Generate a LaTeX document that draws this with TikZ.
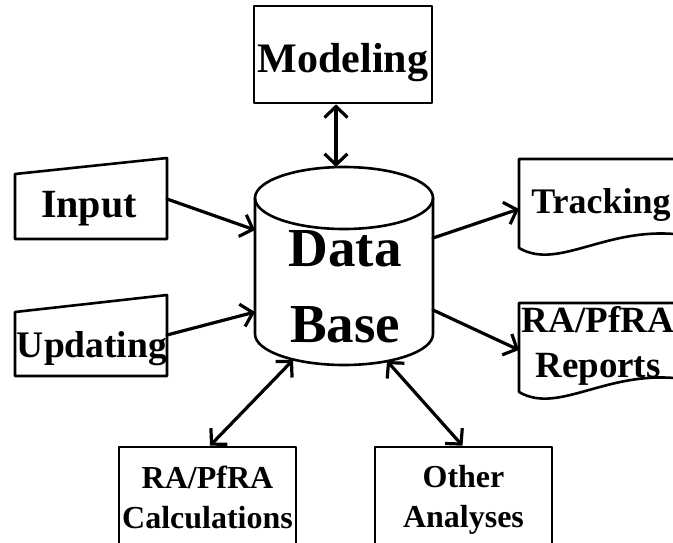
\documentclass[tikz,border=0pt]{standalone}
\usepackage{fontspec}
\setmainfont{Liberation Serif}
\usetikzlibrary{arrows.meta}
\tikzset{
	box/.style={draw, line width=2.6pt, inner sep=0pt, align=center},
	lbl/.style={inner sep=0pt, align=center},
	link/.style={line width=3.2pt},
}
\begin{document}
\begin{tikzpicture}[x=1pt, y=-1pt, line join=round, line cap=round, >={Straight Barb[length=11pt,width=23pt]}]
	\useasboundingbox (0,0) rectangle (673,542);
	\clip (0,0) rectangle (673,542);
	% data base cylinder
	\path (344,198) coordinate (T) (344,334) coordinate (S);
	\draw[line width=2.6pt] ([xshift=-89pt]T) -- ([xshift=-89pt]S) arc[start angle=180, end angle=360, x radius=89pt, y radius=31pt] -- ([xshift=89pt]T);
	\draw[line width=2.6pt] (T) ellipse[x radius=89pt, y radius=31pt];
	\node[lbl, font=\fontsize{55}{76}\selectfont\bfseries] (db) at (345,287) {Data\\Base};
	\path (336,167) coordinate (dbM) (255,230) coordinate (dbI) (255,312) coordinate (dbU)
		(433,238) coordinate (dbT) (433,310) coordinate (dbR) (293,360) coordinate (dbC) (387,361) coordinate (dbO);
	% boxes
	\node[box, minimum width=178pt, minimum height=97pt, text height=46pt, font=\fontsize{42}{50}\selectfont\bfseries] (model) at (343,54.5) {Modeling};
	\node[box, minimum width=177pt, minimum height=100pt, font=\fontsize{32}{40}\selectfont\bfseries] (calc) at (207.5,497) {RA/PfRA\\Calculations};
	\node[box, minimum width=177pt, minimum height=106.6pt, font=\fontsize{32}{40}\selectfont\bfseries] (other) at (463.5,500.3) {Other\\Analyses};
	% manual input shapes
	\foreach \ya/\yb/\yc in {174/158/239, 312/295/376}
		\draw[line width=2.6pt] (15,\ya) -- (167,\yb) -- (167,\yc) -- (15,\yc) -- cycle;
	\node[lbl, anchor=base, font=\fontsize{40}{48}\selectfont\bfseries] (input) at (89,217) {Input};
	\node[lbl, anchor=base, font=\fontsize{37.5}{45}\selectfont\bfseries] (upd) at (92,357) {Updating};
	\path (167,199) coordinate (inR) (167,335) coordinate (upR);
	% document shapes
	\foreach \dy in {0,144}
		\draw[line width=2.6pt] (519,248+\dy) -- (519,159+\dy) -- (690,159+\dy) -- (690,236+\dy) .. controls (610,222+\dy) and (560,272+\dy) .. (519,248+\dy) -- cycle;
	\node[lbl, anchor=base, font=\fontsize{36}{44}\selectfont\bfseries] (track) at (601,213) {Tracking};
	\node[lbl, font=\fontsize{37}{45}\selectfont\bfseries] (rep) at (598,345.5) {RA/PfRA\\Reports};
	\path (519,209) coordinate (trL) (519,350) coordinate (reL);
	% connectors
	\draw[link,<->] ([xshift=-7pt]model.south) -- (dbM);
	\draw[link,->] (inR) -- (dbI);
	\draw[link,->] (upR) -- (dbU);
	\draw[link,->] (dbT) -- (trL);
	\draw[link,->] (dbR) -- (reL);
	\draw[link,<->] (dbC) -- ([xshift=2.5pt]calc.north);
	\draw[link,<->] (dbO) -- ([xshift=-1pt]other.north);
\end{tikzpicture}
\end{document}
